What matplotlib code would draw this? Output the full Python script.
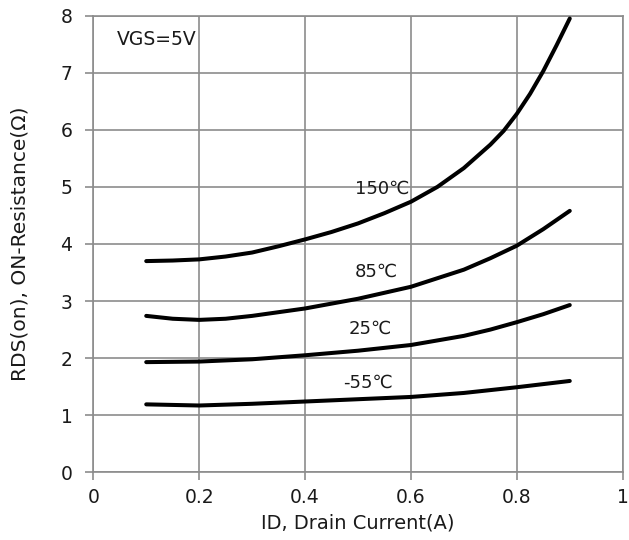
import matplotlib
matplotlib.use("Agg")
import matplotlib.pyplot as plt

plt.rcParams['font.family'] = ['DejaVu Sans', 'Noto Sans CJK SC']

x_150 = [0.10, 0.15, 0.20, 0.25, 0.30, 0.35, 0.40, 0.45, 0.50, 0.55, 0.60, 0.65, 0.70, 0.75, 0.775, 0.80, 0.825, 0.85, 0.875, 0.90]
y_150 = [3.70, 3.71, 3.73, 3.78, 3.85, 3.96, 4.08, 4.21, 4.36, 4.54, 4.74, 5.00, 5.33, 5.74, 5.98, 6.28, 6.63, 7.03, 7.48, 7.95]

x_85 = [0.10, 0.15, 0.20, 0.25, 0.30, 0.40, 0.50, 0.60, 0.70, 0.75, 0.80, 0.85, 0.90]
y_85 = [2.74, 2.69, 2.67, 2.69, 2.74, 2.87, 3.04, 3.25, 3.55, 3.75, 3.97, 4.26, 4.58]

x_25 = [0.10, 0.20, 0.30, 0.40, 0.50, 0.60, 0.70, 0.75, 0.80, 0.85, 0.90]
y_25 = [1.93, 1.94, 1.98, 2.05, 2.13, 2.23, 2.39, 2.50, 2.63, 2.77, 2.93]

x_m55 = [0.10, 0.20, 0.30, 0.40, 0.50, 0.60, 0.70, 0.80, 0.90]
y_m55 = [1.19, 1.17, 1.20, 1.24, 1.28, 1.32, 1.39, 1.49, 1.60]

labels = ["150℃", "85℃", "25℃", "-55℃"]
label_pos = [(0.546, 4.97), (0.534, 3.51), (0.523, 2.51), (0.518, 1.57)]

xticks = [0, 0.2, 0.4, 0.6, 0.8, 1]
xticklabels = ["0", "0.2", "0.4", "0.6", "0.8", "1"]
yticks = [0, 1, 2, 3, 4, 5, 6, 7, 8]

fig = plt.figure(figsize=(6.29, 5.40), dpi=100)
ax = fig.add_axes([0.1483, 0.1254, 0.8417, 0.8456])

gridc = '#8c8c8c'
txtc = '#1a1a1a'
for xs, ys in [(x_150, y_150), (x_85, y_85), (x_25, y_25), (x_m55, y_m55)]:
    ax.plot(xs, ys, color='black', lw=2.9, solid_capstyle='round',
            solid_joinstyle='round', zorder=3)

for t, (lx, ly) in zip(labels, label_pos):
    ax.text(lx, ly, t, ha='center', va='center', fontsize=13, color=txtc, zorder=4)

ax.text(0.045, 7.58, "VGS=5V", ha='left', va='center', fontsize=13.5, color=txtc)

ax.set_xlim(0, 1)
ax.set_ylim(0, 8)
ax.set_xticks(xticks)
ax.set_xticklabels(xticklabels)
ax.set_yticks(yticks)
ax.grid(True, color=gridc, lw=1.2)
ax.set_axisbelow(True)
for s in ax.spines.values():
    s.set_color(gridc)
    s.set_linewidth(1.2)
ax.tick_params(axis='both', colors=gridc, labelcolor=txtc, labelsize=13.5,
               length=6, width=1.2, direction='out')
ax.tick_params(axis='y', pad=9)
ax.tick_params(axis='x', pad=5)

ax.set_xlabel("ID, Drain Current(A)", fontsize=14, color=txtc, labelpad=5)
ax.set_ylabel("RDS(on), ON-Resistance(Ω)", fontsize=14.5, color=txtc, labelpad=22)

fig.savefig("out.png", dpi=100)
